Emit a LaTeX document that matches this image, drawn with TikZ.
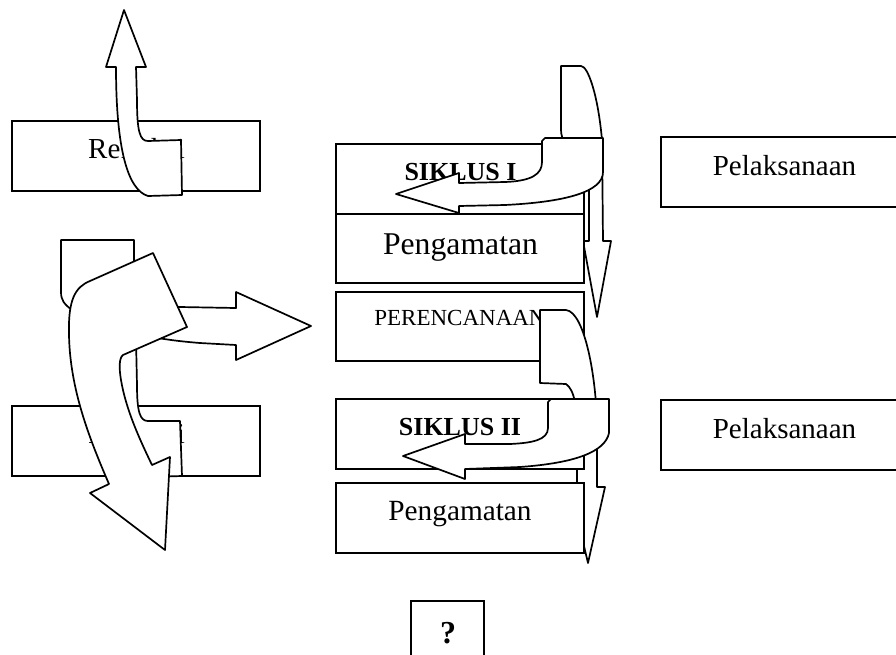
\documentclass[tikz,border=0pt]{standalone}
\usepackage{fontspec}
\setmainfont{Liberation Serif}
\begin{document}
\begin{tikzpicture}[x=1pt,y=-1pt,
  box/.style={draw=black, fill=white, line width=2pt},
  blockarrow/.style={draw=black, fill=white, line width=1.7pt, line join=round},
  lbl/.style={anchor=base, inner sep=0pt, text=black}]
\useasboundingbox (0,0) rectangle (896,654);
\clip (0,0) rectangle (896,654);
\fill[white] (0,0) rectangle (896,654);

% --- left column: reflection boxes and curved block arrows ---
\draw[box] (12,121) rectangle (260,191);
\node[lbl, font=\fontsize{29}{29}\selectfont] (refl1) at (136.5,158) {Refleksi};
% curved up arrow over the first reflection box
\draw[blockarrow] (124,10) -- (146,67) -- (136,67) -- (137,100)
  .. controls (137,132) and (140,141) .. (148,141) -- (181,140) -- (182,195) -- (148,196)
  .. controls (128,190) and (116,150) .. (116,67) -- (106,67) -- cycle;

\draw[box] (12,406) rectangle (260,476);
\node[lbl, font=\fontsize{29}{29}\selectfont] (refl2) at (136.5,443) {Refleksi};
% curved up arrow over the second reflection box (head hidden)
\draw[blockarrow] (124,283) -- (146,340) -- (136,340) -- (137,385)
  .. controls (137,412) and (140,421) .. (148,421) -- (180,421) -- (182,476) -- (148,477)
  .. controls (128,470) and (116,430) .. (116,340) -- (106,340) -- cycle;

% curved right arrow pointing to the planning box
\draw[blockarrow] (61,240) -- (134,240) -- (134,275)
  .. controls (134,300) and (150,307) .. (180,307) -- (236,308) -- (236,292) -- (311,326)
  -- (236,360) -- (236,345) -- (200,343)
  .. controls (175,341) and (165,339) .. (157,338)
  .. controls (110,335) and (75,325) .. (72,310)
  .. controls (64,304) and (61,300) .. (61,292) -- cycle;

% large curved down arrow
\draw[blockarrow] (153,253) -- (187,327) -- (123,355)
  .. controls (119,358) and (119,368) .. (121,380)
  .. controls (126,410) and (140,440) .. (152,465) -- (170,457) -- (165,550) -- (90,493) -- (109,484)
  .. controls (90,440) and (70,390) .. (69,335)
  .. controls (68,300) and (75,287) .. (90,281) -- cycle;

% --- right column: implementation boxes ---
\draw[box] (661,137) rectangle (905,207);
\node[lbl, font=\fontsize{29}{29}\selectfont] (pel1) at (784.5,175) {Pelaksanaan};
\draw[box] (661,400) rectangle (905,470);
\node[lbl, font=\fontsize{29}{29}\selectfont] (pel2) at (784.5,438) {Pelaksanaan};

% --- middle column: cycle I ---
\draw[blockarrow] (561,66) -- (581,66) .. controls (588,66) and (598,95) .. (602,140)
  -- (603,241) -- (611,241) -- (597,317) -- (583,241) -- (589,241) -- (589,185)
  .. controls (589,165) and (561,150) .. (561,130) -- cycle;

\draw[box] (336,144) rectangle (584,214);
\node[lbl, font=\fontsize{26}{26}\selectfont\bfseries] (sik1) at (460.5,180) {SIKLUS I};

\draw[blockarrow] (545,138) -- (603,138) -- (603,172)
  .. controls (603,192) and (565,202) .. (505,205) -- (459,206) -- (459,213) -- (396,194)
  -- (459,173) -- (459,183) -- (505,182)
  .. controls (532,181) and (542,174) .. (542,162) -- (542,141) -- cycle;

\draw[box] (336,214) rectangle (584,283);
\node[lbl, font=\fontsize{31.7}{31.7}\selectfont] (obs1) at (460.5,254) {Pengamatan};

\draw[box] (336,292) rectangle (584,361);
\node[lbl, font=\fontsize{23}{23}\selectfont] (plan) at (460,325) {PERENCANAAN};

% --- middle column: cycle II ---
\draw[blockarrow] (540,310) -- (566,310) .. controls (585,312) and (597,380) .. (597,430)
  -- (597,487) -- (605,487) -- (588,563) -- (570,487) -- (577,487) -- (577,430)
  .. controls (577,410) and (575,390) .. (566,384) -- (540,383) -- cycle;

\draw[box] (336,399) rectangle (584,469);
\node[lbl, font=\fontsize{26}{26}\selectfont\bfseries] (sik2) at (460,435) {SIKLUS II};

\draw[box] (336,483) rectangle (584,553);
\node[lbl, font=\fontsize{29.3}{29.3}\selectfont] (obs2) at (460,520) {Pengamatan};

\draw[blockarrow] (551,399) -- (609,399) -- (609,433)
  .. controls (605,452) and (575,463) .. (520,467) -- (465,469) -- (465,479) -- (403,456)
  -- (465,434) -- (465,444) -- (510,444)
  .. controls (532,443) and (548,440) .. (548,428) -- (548,402) -- cycle;

% --- open question box ---
\draw[box] (411,601) rectangle (484,664);
\node[lbl, font=\fontsize{32}{32}\selectfont\bfseries] (quest) at (448,643) {?};
\end{tikzpicture}
\end{document}
